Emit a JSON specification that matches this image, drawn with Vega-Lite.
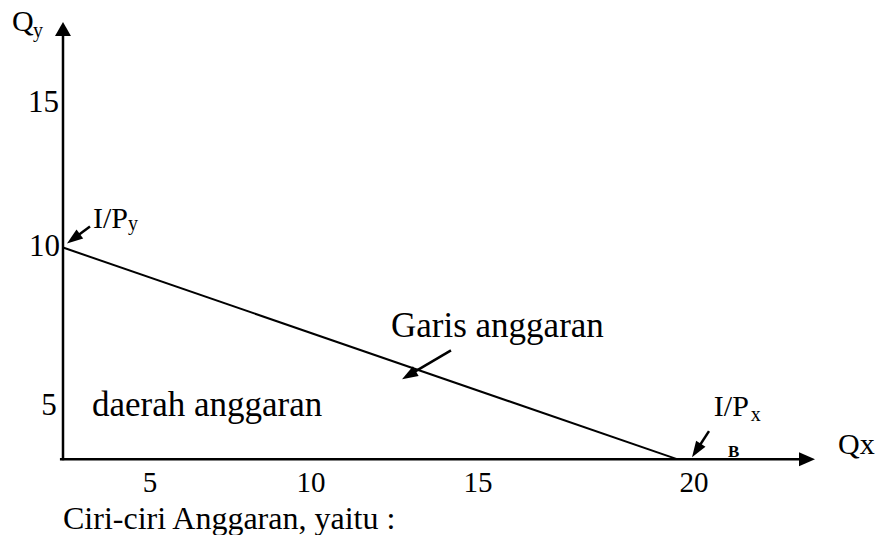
{
  "$schema": "https://vega.github.io/schema/vega-lite/v6.json",
  "width": 878,
  "height": 535,
  "padding": 0,
  "autosize": {"type": "fit", "contains": "padding"},
  "background": "white",
  "config": {"view": {"stroke": null}},
  "datasets": {
    "axes": [
      {"part": "Qy axis", "x": 0, "y": -0.05, "x2": 0, "y2": 20.0},
      {"part": "Qx axis", "x": -0.1, "y": 0, "x2": 24.0, "y2": 0}
    ],
    "budget": [
      {"Qx": 0, "Qy": 10},
      {"Qx": 20, "Qy": 0}
    ],
    "shafts": [
      {"name": "I/Py", "x": 0.879, "y": 10.991, "x2": 0.339, "y2": 10.415},
      {"name": "Garis", "x": 12.638, "y": 5.142, "x2": 11.267, "y2": 3.967},
      {"name": "I/Px", "x": 21.042, "y": 1.321, "x2": 20.632, "y2": 0.410}
    ],
    "heads": [
      {"name": "I/Py", "x": 0.339, "y": 10.415},
      {"name": "Garis", "x": 11.267, "y": 3.967},
      {"name": "I/Px", "x": 20.632, "y": 0.410}
    ],
    "ytick": [
      {"label": "15", "x": -0.13, "y": 16.415},
      {"label": "10", "x": -0.10, "y": 9.58},
      {"label": "5", "x": -0.20, "y": 2.075}
    ],
    "xtick": [
      {"label": "5", "x": 2.834, "y": -1.557},
      {"label": "10", "x": 8.078, "y": -1.557},
      {"label": "15", "x": 13.518, "y": -1.557},
      {"label": "20", "x": 20.554, "y": -1.557}
    ],
    "mainText": [
      {"label": "Q", "x": -1.661, "y": 20.236},
      {"label": "I/P", "x": 0.977, "y": 10.943},
      {"label": "I/P", "x": 21.200, "y": 2.028},
      {"label": "Qx", "x": 25.244, "y": 0.236}
    ],
    "subText": [
      {"label": "y", "x": -0.98, "y": 19.953},
      {"label": "y", "x": 2.12, "y": 10.849},
      {"label": "x", "x": 22.40, "y": 1.792}
    ],
    "bigText": [
      {"label": "Garis anggaran", "x": 10.684, "y": 5.755},
      {"label": "daerah anggaran", "x": 0.945, "y": 2.028}
    ],
    "caption": [
      {"label": "Ciri-ciri Anggaran, yaitu :", "x": 0, "y": -3.302}
    ],
    "point": [
      {"label": "B", "x": 21.661, "y": 0.094}
    ],
    "arrowY": [{"x": 0, "y": 20.33}],
    "arrowX": [{"x": 24.235, "y": 0}]
  },
  "layer": [
    {
      "data": {"name": "axes"},
      "mark": {"type": "rule", "color": "black", "strokeWidth": 2.5},
      "encoding": {
        "x": {"field": "x", "type": "quantitative", "scale": {"domain": [-2.052, 26.547], "nice": false, "zero": false}, "axis": null},
        "y": {"field": "y", "type": "quantitative", "scale": {"domain": [-3.538, 21.698], "nice": false, "zero": false}, "axis": null},
        "x2": {"field": "x2"},
        "y2": {"field": "y2"}
      }
    },
    {
      "data": {"name": "budget"},
      "mark": {"type": "line", "color": "black", "strokeWidth": 2},
      "encoding": {
        "x": {"field": "Qx", "type": "quantitative"},
        "y": {"field": "Qy", "type": "quantitative"}
      }
    },
    {
      "data": {"name": "shafts"},
      "mark": {"type": "rule", "color": "black", "strokeWidth": 2.5},
      "encoding": {
        "x": {"field": "x", "type": "quantitative"},
        "y": {"field": "y", "type": "quantitative"},
        "x2": {"field": "x2"},
        "y2": {"field": "y2"}
      }
    },
    {
      "data": {"name": "heads"},
      "transform": [{"filter": "datum.name === 'I/Py'"}],
      "mark": {"type": "point", "filled": true, "color": "black", "opacity": 1, "shape": "M0,-1L0.7,1L-0.7,1Z", "size": 256, "angle": 233.5, "strokeWidth": 0},
      "encoding": {
        "x": {"field": "x", "type": "quantitative"},
        "y": {"field": "y", "type": "quantitative"}
      }
    },
    {
      "data": {"name": "heads"},
      "transform": [{"filter": "datum.name === 'Garis'"}],
      "mark": {"type": "point", "filled": true, "color": "black", "opacity": 1, "shape": "M0,-1L0.7,1L-0.7,1Z", "size": 256, "angle": 239.4, "strokeWidth": 0},
      "encoding": {
        "x": {"field": "x", "type": "quantitative"},
        "y": {"field": "y", "type": "quantitative"}
      }
    },
    {
      "data": {"name": "heads"},
      "transform": [{"filter": "datum.name === 'I/Px'"}],
      "mark": {"type": "point", "filled": true, "color": "black", "opacity": 1, "shape": "M0,-1L0.7,1L-0.7,1Z", "size": 256, "angle": 213.2, "strokeWidth": 0},
      "encoding": {
        "x": {"field": "x", "type": "quantitative"},
        "y": {"field": "y", "type": "quantitative"}
      }
    },
    {
      "data": {"name": "arrowY"},
      "mark": {"type": "point", "filled": true, "color": "black", "opacity": 1, "shape": "M0,-1L1.14,1L-1.14,1Z", "size": 196, "strokeWidth": 0},
      "encoding": {
        "x": {"field": "x", "type": "quantitative"},
        "y": {"field": "y", "type": "quantitative"}
      }
    },
    {
      "data": {"name": "arrowX"},
      "mark": {"type": "point", "filled": true, "color": "black", "opacity": 1, "shape": "M1,0L-1,0.875L-1,-0.875Z", "size": 256, "strokeWidth": 0},
      "encoding": {
        "x": {"field": "x", "type": "quantitative"},
        "y": {"field": "y", "type": "quantitative"}
      }
    },
    {
      "data": {"name": "ytick"},
      "mark": {"type": "text", "font": "Liberation Serif", "fontSize": 31, "align": "right", "baseline": "alphabetic", "color": "black"},
      "encoding": {
        "x": {"field": "x", "type": "quantitative"},
        "y": {"field": "y", "type": "quantitative"},
        "text": {"field": "label"}
      }
    },
    {
      "data": {"name": "xtick"},
      "mark": {"type": "text", "font": "Liberation Serif", "fontSize": 29, "align": "center", "baseline": "alphabetic", "color": "black"},
      "encoding": {
        "x": {"field": "x", "type": "quantitative"},
        "y": {"field": "y", "type": "quantitative"},
        "text": {"field": "label"}
      }
    },
    {
      "data": {"name": "mainText"},
      "mark": {"type": "text", "font": "Liberation Serif", "fontSize": 30, "align": "left", "baseline": "alphabetic", "color": "black"},
      "encoding": {
        "x": {"field": "x", "type": "quantitative"},
        "y": {"field": "y", "type": "quantitative"},
        "text": {"field": "label"}
      }
    },
    {
      "data": {"name": "subText"},
      "mark": {"type": "text", "font": "Liberation Serif", "fontSize": 20, "align": "left", "baseline": "alphabetic", "color": "black"},
      "encoding": {
        "x": {"field": "x", "type": "quantitative"},
        "y": {"field": "y", "type": "quantitative"},
        "text": {"field": "label"}
      }
    },
    {
      "data": {"name": "bigText"},
      "mark": {"type": "text", "font": "Liberation Serif", "fontSize": 35, "align": "left", "baseline": "alphabetic", "color": "black"},
      "encoding": {
        "x": {"field": "x", "type": "quantitative"},
        "y": {"field": "y", "type": "quantitative"},
        "text": {"field": "label"}
      }
    },
    {
      "data": {"name": "caption"},
      "mark": {"type": "text", "font": "Liberation Serif", "fontSize": 32, "align": "left", "baseline": "alphabetic", "color": "black"},
      "encoding": {
        "x": {"field": "x", "type": "quantitative"},
        "y": {"field": "y", "type": "quantitative"},
        "text": {"field": "label"}
      }
    },
    {
      "data": {"name": "point"},
      "mark": {"type": "text", "font": "Liberation Serif", "fontSize": 17, "fontWeight": "bold", "align": "left", "baseline": "alphabetic", "color": "black"},
      "encoding": {
        "x": {"field": "x", "type": "quantitative"},
        "y": {"field": "y", "type": "quantitative"},
        "text": {"field": "label"}
      }
    }
  ]
}
